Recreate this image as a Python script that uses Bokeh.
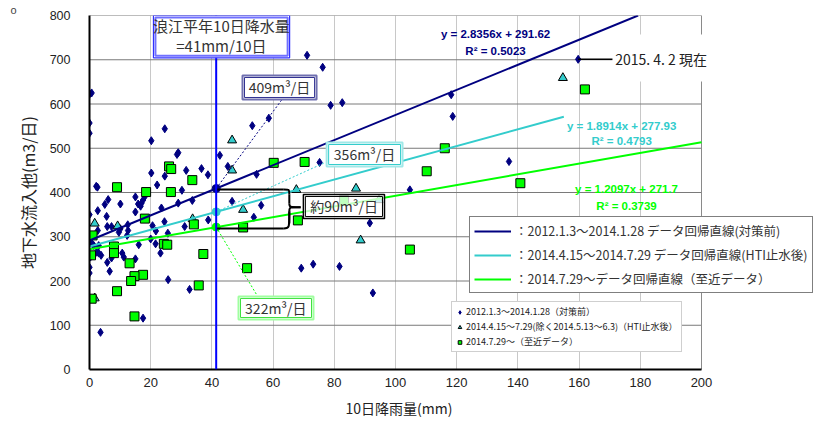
import numpy as np
from bokeh.plotting import figure
from bokeh.models import (Range1d, Span, BoxAnnotation, Label, Legend, LegendItem, FixedTicker, Title)
from bokeh.embed import file_html
from bokeh.resources import INLINE

JP = "Noto Sans CJK JP"
LAT = "Liberation Sans"

# ---------------- data ----------------
# 2012.1.3 - 2014.1.28 (before countermeasure)
pre_x = [0, 0.7, 0, 0, 24.6, 20.2, 29.0, 28.6, 20.2, 24.6, 31.6, 36.6, 38.7, 22.1, 30.2,
         2.2, 2.6, 42.6, 15.0, 18.1, 17.5, 17.0, 16.7, 6.1, 5.0, 10.1, 2.7, 23.5, 29.0,
         33.6, 15.0, 0, 5.6, 24.5, 31.1, 38.8, 7.2, 20.6, 12.5, 9.6, 12.6, 12.3, 0, 0.2,
         0.9, 1.4, 3.0, 16.1, 10.7, 20.0, 21.6, 23.2, 3.0, 3.8, 2.3, 0.3, 7.2, 5.8, 11.2,
         15.0, 0, 0, 6.6, 25.7, 32.7, 17.5, 3.6, 78.8, 82.6, 58.6, 53.2, 45.2, 54.6, 75.2,
         46.6, 56.1, 53.7, 69.2, 73.1, 81.7, 91.6, 92.6, 104.7, 159.7, 118.2, 118.7, 137.1,
         71.1, 76.2, 25.6, 15.9, 21.7, 5.8, 10.1, 2.7]
pre_y = [622, 625, 557, 534, 544, 517, 490, 486, 444, 437, 450, 454, 440, 417, 405,
         414, 412, 484, 390, 391, 383, 376, 369, 384, 373, 374, 359, 365, 376,
         382, 356, 350, 346, 334, 323, 338, 323, 325, 327, 310, 314, 303, 295, 290,
         284, 280, 280, 282, 263, 295, 284, 263, 263, 258, 265, 254, 252, 242, 254,
         250, 231, 218, 222, 203, 181, 116, 84, 597, 603, 568, 551, 459, 441, 468,
         380, 371, 344, 229, 238, 233, 331, 173, 406, 701, 621, 572, 470,
         710, 683, 308, 374, 313, 323, 318, 314]

# 2014.4.15 - 7.29 (after HTI water stop)
hti_x = [1.7, 9.2, 33.7, 1.7, 46.6, 46.6, 67.6, 50.2, 87.1, 88.6, 154.7, 94.6]
hti_y = [330, 324, 340, 161, 518, 450, 406, 361, 409, 292, 659, 383]

# 2014.7.29 - (recent data)
recent_x = [26.0, 26.7, 33.6, 9.0, 18.5, 26.6, 18.1, 34.1, 1.0, 8.0, 8.0, 24.3, 25.4, 37.2,
            0.5, 13.1, 17.5, 14.7, 13.6, 35.7, 9.0, 0.7, 14.7, 60.2, 70.3, 68.1, 50.2, 51.5,
            104.7, 161.9, 116.1, 110.2, 140.8, 83.2]
recent_y = [459, 453, 428, 412, 401, 401, 341, 328, 303, 278, 263, 284, 282, 261,
            258, 240, 214, 211, 200, 190, 177, 160, 120, 467, 469, 337, 321, 229,
            271, 633, 500, 448, 421, 383]

# regression lines
fit_slope = [2.8356, 1.8914, 1.2097]
fit_intercept = [291.62, 277.93, 271.7]
fit_r2 = [0.5023, 0.4793, 0.3739]
fit_x_end = [200, 155, 200]
fit_colors = ["#000080", "#33cccc", "#00ff00"]
fit_labels = ["：2012.1.3～2014.1.28 データ回帰直線(対策前)",
              "：2014.4.15～2014.7.29 データ回帰直線(HTI止水後)",
              "：2014.7.29～データ回帰直線（至近データ）"]
point_labels = ["2012.1.3～2014.1.28（対策前）",
                "2014.4.15～7.29(除く2014.5.13～6.3)（HTI止水後）",
                "2014.7.29～（至近データ）"]

rain_normal = 41.4          # Namie normal 10-day precipitation (mm)
x_max, y_max = 200, 800
x_ticks = list(range(0, 201, 20))
y_ticks = list(range(0, 801, 100))

# ---------------- figure ----------------
# frame is widened to the right so that the legend can overhang the axis area
FW, FH = 741, 354
p = figure(frame_width=FW, frame_height=FH,
           x_range=Range1d(0, x_max * FW / 612), y_range=Range1d(0, y_max),
           output_backend="svg", toolbar_location=None,
           min_border_left=89, min_border_right=0, min_border_top=15, min_border_bottom=30)
p.outline_line_color = None
p.background_fill_color = "white"
p.border_fill_color = "white"

p.title.text = "o"
p.title.align = "left"
p.title.offset = -79
p.title.standoff = 0
p.title.text_font = LAT
p.title.text_font_size = "11px"
p.title.text_font_style = "normal"

p.xaxis.ticker = FixedTicker(ticks=x_ticks)
p.yaxis.ticker = FixedTicker(ticks=y_ticks)
p.xaxis.bounds = (0, x_max)
p.yaxis.bounds = (0, y_max)
p.xgrid.grid_line_color = "#c8c8c8"
p.ygrid.visible = False
for ax in (p.xaxis[0], p.yaxis[0]):
    ax.axis_line_color = "black"
    ax.axis_line_width = 2
    ax.major_tick_out = 0
    ax.major_tick_in = 0
    ax.minor_tick_out = 0
    ax.minor_tick_in = 0
    ax.major_label_text_font = LAT
    ax.major_label_text_color = "#222222"
    ax.axis_label_text_font = JP
    ax.axis_label_text_font_style = "normal"
    ax.axis_label_text_color = "#222222"
p.xaxis.major_label_text_font_size = "13px"
p.yaxis.major_label_text_font_size = "12.5px"
p.xaxis.major_label_standoff = 8
p.yaxis.major_label_standoff = 19
p.yaxis.axis_label = "地下水流入他(m3/日)"
p.yaxis.axis_label_text_font_size = "16px"
p.yaxis.axis_label_standoff = 7

# x-axis title, centred under the 0-200 axis extent
p.add_layout(Title(text="10日降雨量(mm)", align="left", offset=256, standoff=12,
                   text_font=JP, text_font_size="14px", text_font_style="normal",
                   text_color="#222222"), "below")

# horizontal grid lines and right border, limited to the axis extent
p.segment(x0=[0] * len(y_ticks), y0=y_ticks, x1=[x_max] * len(y_ticks), y1=y_ticks,
          line_color="#7a7a7a", line_width=1)
p.segment(x0=[x_max], y0=[0], x1=[x_max], y1=[y_max], line_color="#8a8a8a", line_width=1)

# normal rainfall line
p.add_layout(Span(location=rain_normal, dimension="height", line_color="#0000ff", line_width=2))

# scatter points
r_pre = p.scatter(pre_x, pre_y, marker="diamond", size=8,
                  fill_color="#000080", line_color="#000080")
r_hti = p.scatter(hti_x, hti_y, marker="triangle", size=9, fill_color="#33cccc", line_color="black", line_width=1)
r_rec = p.scatter(recent_x, recent_y, marker="square", size=9, fill_color="#00ff00", line_color="black", line_width=1)

# regression lines
line_renderers = []
for a, b, xe, c in zip(fit_slope, fit_intercept, fit_x_end, fit_colors):
    xs = np.array([0, xe])
    ys = a * xs + b
    if ys[-1] > y_max:           # clip at top of the axis area
        xs = np.array([0, (y_max - b) / a])
        ys = a * xs + b
    line_renderers.append(p.line(xs, ys, line_color=c, line_width=2))

# values at normal rainfall
at_rain = [a * rain_normal + b for a, b in zip(fit_slope, fit_intercept)]
for v, c in zip(at_rain, fit_colors):
    p.scatter([rain_normal], [v], marker="circle", size=8, fill_color=c, line_color=c)

# dotted leader lines to value boxes
p.segment(x0=[rain_normal], y0=[at_rain[0]], x1=[63.1], y1=[612], line_color="#000080", line_dash="2 2", line_width=1)
p.segment(x0=[rain_normal], y0=[at_rain[1]], x1=[77.1], y1=[468], line_color="#33cccc", line_dash="2 2", line_width=1)
p.segment(x0=[rain_normal], y0=[at_rain[2]], x1=[54.8], y1=[167], line_color="#00ff00", line_dash="2 2", line_width=1)

# brace between navy and green values
bt, bb = at_rain[0] - 2, at_rain[2] - 3
bm = (bt + bb) / 2 + 4
bx, tipx = 65.3, 69.0
p.segment(x0=[rain_normal, rain_normal, bx, bx], y0=[bt, bb, bt - 11, bm - 9],
          x1=[63.5, 63.5, bx, bx], y1=[bt, bb, bm + 9, bb + 11], line_color="black", line_width=2)
p.bezier(x0=[63.5, bx, tipx, bx], y0=[bt, bm + 9, bm, bm - 9],
         x1=[bx, tipx, bx, 63.5], y1=[bt - 11, bm, bm - 9, bb],
         cx0=[bx, bx, bx, bx], cy0=[bt, bm, bm, bb],
         cx1=[bx, bx, bx, bx], cy1=[bt, bm, bm, bb], line_color="black", line_width=2)

# "2015.4.2 現在" leader
p.segment(x0=[pre_x[83]], y0=[pre_y[83]], x1=[171.5], y1=[pre_y[83]], line_color="black", line_width=1.5)


def double_box(l, r, b, t, outer, inner, ow=1.5, iw=1.0, alpha=1.0):
    p.add_layout(BoxAnnotation(left=l, right=r, bottom=b, top=t, fill_color="white", fill_alpha=alpha,
                               line_color=outer, line_width=ow, line_alpha=1))
    dx, dy = 0.65, 4.5
    p.add_layout(BoxAnnotation(left=l + dx, right=r - dx, bottom=b + dy, top=t - dy, fill_alpha=0,
                               line_color=inner, line_width=iw, line_alpha=1))


def box_text(x, y, text, size="14px", color="#333333"):
    p.add_layout(Label(x=x, y=y, text=text, text_align="center", text_baseline="middle",
                       text_font=JP, text_font_size=size, text_color=color))


# title box for normal rainfall
double_box(20.9, 65.4, 704.4, 800, "#3030ff", "#7070ff", 1.2, 2)
box_text(43.1, 777.0, "浪江平年10日降水量", "15px")
box_text(43.1, 732.0, "=41mm/10日", "15px")

# value boxes
double_box(50.0, 74.2, 610.2, 664.4, "#7070b0", "#303090", 2, 1)
box_text(62.1, 637.3, "409m³/日")
double_box(77.5, 102.3, 458.8, 513.0, "#a0e8e8", "#33cccc", 2, 1)
box_text(89.9, 485.9, "356m³/日")
double_box(48.7, 73.2, 113.0, 165.0, "#a0ffa0", "#40e040", 2, 1)
box_text(60.9, 139.0, "322m³/日")
double_box(69.9, 96.4, 341.2, 395.5, "black", "black", 1.5, 1, alpha=0.75)
box_text(83.2, 368.4, "約90m³/日")

# regression equations
eq_pos = [(132.7, 759.3, 720.9), (173.9, 551.4, 515.3), (175.5, 406.8, 368.4)]
for (ex, ey1, ey2), a, b, r2, c in zip(eq_pos, fit_slope, fit_intercept, fit_r2, fit_colors):
    for yy, txt in ((ey1, f"y = {a:g}x + {b:g}"), (ey2, f"R² = {r2:g}")):
        p.add_layout(Label(x=ex, y=yy, text=txt, text_align="center", text_baseline="middle",
                           text_font=LAT, text_font_style="bold", text_font_size="11.5px", text_color=c))

# "as of" note
p.add_layout(BoxAnnotation(left=170.9, right=205.5, bottom=650.8, top=757.1,
                           fill_color="white", fill_alpha=1, line_alpha=0))
p.add_layout(Label(x=171.8, y=702.0, text="2015. 4. 2 現在", text_align="left", text_baseline="middle",
                   text_font=JP, text_font_size="14px", text_color="#222222"))

# legends
legend1 = Legend(items=[LegendItem(label=lab, renderers=[r]) for lab, r in zip(fit_labels, line_renderers)],
                 location=(380, 76), orientation="vertical",
                 border_line_color="black", border_line_width=1.5, background_fill_alpha=1,
                 label_text_font=JP, label_text_font_size="12.5px", label_text_color="#333333",
                 glyph_width=37, glyph_height=16, label_height=16, spacing=5, padding=4,
                 margin=0, label_standoff=4)
p.add_layout(legend1)

legend2 = Legend(items=[LegendItem(label=lab, renderers=[r]) for lab, r in zip(point_labels, [r_pre, r_hti, r_rec])],
                 location=(362, 17), orientation="vertical",
                 border_line_color="#a0a0a0", border_line_width=1, background_fill_alpha=1,
                 label_text_font=JP, label_text_font_size="9px", label_text_color="#222222",
                 glyph_width=9, glyph_height=12, label_height=12, spacing=2, padding=3,
                 margin=0, label_standoff=2)
p.add_layout(legend2)

open("out.html", "w").write(file_html(p, INLINE))
